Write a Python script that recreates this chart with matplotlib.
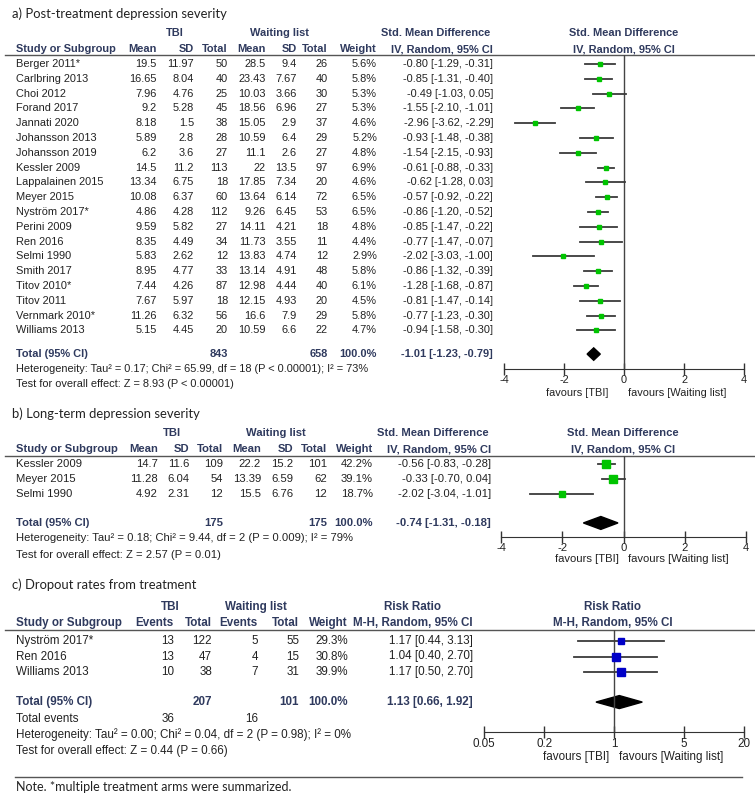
import numpy as np
import matplotlib.pyplot as plt
from matplotlib import font_manager
from matplotlib.transforms import blended_transform_factory, offset_copy
from matplotlib.patches import Polygon

# RevMan output uses a slightly condensed Arial; use the narrow face if present
names = {f.name for f in font_manager.fontManager.ttflist}
if 'Liberation Sans Narrow' in names:
    BODY = ['Liberation Sans Narrow', 'DejaVu Sans']
    SC = 1.2
else:
    BODY = ['Liberation Sans', 'DejaVu Sans']
    SC = 1.0
plt.rcParams['font.family'] = BODY
plt.rcParams['axes.unicode_minus'] = False

# ---------------- a) post-treatment depression severity
studies_a = ["Berger 2011*", "Carlbring 2013", "Choi 2012", "Forand 2017", "Jannati 2020",
             "Johansson 2013", "Johansson 2019", "Kessler 2009", "Lappalainen 2015", "Meyer 2015",
             "Nyström 2017*", "Perini 2009", "Ren 2016", "Selmi 1990", "Smith 2017",
             "Titov 2010*", "Titov 2011", "Vernmark 2010*", "Williams 2013"]
tbi_mean_a = [19.5, 16.65, 7.96, 9.2, 8.18, 5.89, 6.2, 14.5, 13.34, 10.08, 4.86, 9.59, 8.35, 5.83, 8.95, 7.44, 7.67, 11.26, 5.15]
tbi_sd_a = [11.97, 8.04, 4.76, 5.28, 1.5, 2.8, 3.6, 11.2, 6.75, 6.37, 4.28, 5.82, 4.49, 2.62, 4.77, 4.26, 5.97, 6.32, 4.45]
tbi_n_a = [50, 40, 25, 45, 38, 28, 27, 113, 18, 60, 112, 27, 34, 12, 33, 87, 18, 56, 20]
wl_mean_a = [28.5, 23.43, 10.03, 18.56, 15.05, 10.59, 11.1, 22, 17.85, 13.64, 9.26, 14.11, 11.73, 13.83, 13.14, 12.98, 12.15, 16.6, 10.59]
wl_sd_a = [9.4, 7.67, 3.66, 6.96, 2.9, 6.4, 2.6, 13.5, 7.34, 6.14, 6.45, 4.21, 3.55, 4.74, 4.91, 4.44, 4.93, 7.9, 6.6]
wl_n_a = [26, 40, 30, 27, 37, 29, 27, 97, 20, 72, 53, 18, 11, 12, 48, 40, 20, 29, 22]
weight_a = [5.6, 5.8, 5.3, 5.3, 4.6, 5.2, 4.8, 6.9, 4.6, 6.5, 6.5, 4.8, 4.4, 2.9, 5.8, 6.1, 4.5, 5.8, 4.7]
est_a = [-0.80, -0.85, -0.49, -1.55, -2.96, -0.93, -1.54, -0.61, -0.62, -0.57, -0.86, -0.85, -0.77, -2.02, -0.86, -1.28, -0.81, -0.77, -0.94]
lo_a = [-1.29, -1.31, -1.03, -2.10, -3.62, -1.48, -2.15, -0.88, -1.28, -0.92, -1.20, -1.47, -1.47, -3.03, -1.32, -1.68, -1.47, -1.23, -1.58]
hi_a = [-0.31, -0.40, 0.05, -1.01, -2.29, -0.38, -0.93, -0.33, 0.03, -0.22, -0.52, -0.22, -0.07, -1.00, -0.39, -0.87, -0.14, -0.30, -0.30]
total_n_a = [843, 658]
total_a = [-1.01, -1.23, -0.79]
het_a = "Heterogeneity: Tau² = 0.17; Chi² = 65.99, df = 18 (P < 0.00001); I² = 73%"
z_a = "Test for overall effect: Z = 8.93 (P < 0.00001)"

# ---------------- b) long-term depression severity
studies_b = ["Kessler 2009", "Meyer 2015", "Selmi 1990"]
tbi_mean_b = [14.7, 11.28, 4.92]
tbi_sd_b = [11.6, 6.04, 2.31]
tbi_n_b = [109, 54, 12]
wl_mean_b = [22.2, 13.39, 15.5]
wl_sd_b = [15.2, 6.59, 6.76]
wl_n_b = [101, 62, 12]
weight_b = [42.2, 39.1, 18.7]
est_b = [-0.56, -0.33, -2.02]
lo_b = [-0.83, -0.70, -3.04]
hi_b = [-0.28, 0.04, -1.01]
total_n_b = [175, 175]
total_b = [-0.74, -1.31, -0.18]
het_b = "Heterogeneity: Tau² = 0.18; Chi² = 9.44, df = 2 (P = 0.009); I² = 79%"
z_b = "Test for overall effect: Z = 2.57 (P = 0.01)"

# ---------------- c) dropout rates
studies_c = ["Nyström 2017*", "Ren 2016", "Williams 2013"]
tbi_ev_c = [13, 13, 10]
tbi_n_c = [122, 47, 38]
wl_ev_c = [5, 4, 7]
wl_n_c = [55, 15, 31]
weight_c = [29.3, 30.8, 39.9]
est_c = [1.17, 1.04, 1.17]
lo_c = [0.44, 0.40, 0.50]
hi_c = [3.13, 2.70, 2.70]
total_n_c = [207, 101]
total_ev_c = [36, 16]
total_c = [1.13, 0.66, 1.92]
het_c = "Heterogeneity: Tau² = 0.00; Chi² = 0.04, df = 2 (P = 0.98); I² = 0%"
z_c = "Test for overall effect: Z = 0.44 (P = 0.66)"

W, H = 755, 800
NAVY = '#2f3a5e'
TXT = '#222222'
GREY = '#555555'
TITLE_FONT = ['Lato', 'DejaVu Sans']

fig = plt.figure(figsize=(W / 100, H / 100), dpi=100)
page = fig.add_axes([0, 0, 1, 1])
page.set_xlim(0, W)
page.set_ylim(H, 0)
page.axis('off')


def make_forest(x0, x1, y_first, dy, top, bot, xlim, ticks, ticklabels, fs, log=False):
    top_px = y_first + dy * top
    bot_px = y_first + dy * bot
    ax = fig.add_axes([x0 / W, 1 - bot_px / H, (x1 - x0) / W, (bot_px - top_px) / H])
    ax.patch.set_alpha(0)
    if log:
        ax.set_xscale('log')
    ax.set_xlim(*xlim)
    ax.set_ylim(bot, top)
    for s in ['top', 'left', 'right']:
        ax.spines[s].set_visible(False)
    ax.spines['bottom'].set_color('#333333')
    ax.set_yticks([])
    ax.set_xticks(ticks)
    ax.set_xticklabels(ticklabels)
    ax.minorticks_off()
    ax.tick_params(axis='x', direction='inout', length=9, width=1, color='#333333',
                   labelsize=fs, labelcolor=TXT, pad=0)
    ax.axvline(1 if log else 0, color='#444444', lw=1)
    tr = blended_transform_factory(page.transData, ax.transData)
    # header separator across the page
    page.plot([5, W], [top, top], transform=tr, color=GREY, lw=1, clip_on=False)
    return ax, tr


def put(tr, x, y, s, fs, ha='right', bold=False, color=TXT, family=None):
    page.text(x, y, s, transform=tr, ha=ha, va='center', fontsize=fs,
              fontweight='bold' if bold else 'normal', color=color,
              family=family, clip_on=False)


def ci_txt(v):
    return "{:.2f} [{:.2f}, {:.2f}]".format(*v)


def diamond(ax, v, y, h):
    ax.add_patch(Polygon([(v[1], y), (v[0], y - h), (v[2], y), (v[0], y + h)],
                         closed=True, color='black', clip_on=False))


def studies(ax, est, lo, hi, weight, k, color):
    for i in range(len(est)):
        ax.plot([lo[i], hi[i]], [i, i], color='#3a3a3a', lw=1.3, clip_on=False)
        ax.plot(est[i], i, marker='s', ms=k * np.sqrt(weight[i]), color=color,
                mec=color, clip_on=False)


def favours(ax, y, ref, fs, left_off, right_off):
    tl = ax.transData
    put(offset_copy(tl, fig=fig, x=left_off, y=0, units='dots'), ref, y, "favours [TBI]", fs, ha='right')
    put(offset_copy(tl, fig=fig, x=right_off, y=0, units='dots'), ref, y, "favours [Waiting list]", fs, ha='left')


# ======================= panel a
fs = 7.9 * SC
y0, dy = 64, 14.8
ax, tr = make_forest(504, 744, y0, dy, -0.6, 20.6, (-4, 4), [-4, -2, 0, 2, 4],
                     ['-4', '-2', '0', '2', '4'], fs)
put(tr, 12, -3.4, "a) Post-treatment depression severity", 9.4, ha='left', family=TITLE_FONT)
put(tr, 175, -2.1, "TBI", fs, ha='center', bold=True, color=NAVY)
put(tr, 280, -2.1, "Waiting list", fs, ha='center', bold=True, color=NAVY)
put(tr, 436, -2.1, "Std. Mean Difference", fs, ha='center', bold=True, color=NAVY)
put(tr, 624, -2.1, "Std. Mean Difference", fs, ha='center', bold=True, color=NAVY)
put(tr, 16, -1.0, "Study or Subgroup", fs, ha='left', bold=True, color=NAVY)
for x, s in zip([157, 194, 228, 266, 297, 328, 377],
                ["Mean", "SD", "Total", "Mean", "SD", "Total", "Weight"]):
    put(tr, x, -1.0, s, fs, bold=True, color=NAVY)
put(tr, 493, -1.0, "IV, Random, 95% CI", fs, bold=True, color=NAVY)
put(tr, 624, -1.0, "IV, Random, 95% CI", fs, ha='center', bold=True, color=NAVY)
for i, name in enumerate(studies_a):
    put(tr, 16, i, name, fs, ha='left')
    put(tr, 157, i, f"{tbi_mean_a[i]:g}", fs)
    put(tr, 194, i, f"{tbi_sd_a[i]:g}", fs)
    put(tr, 228, i, str(tbi_n_a[i]), fs)
    put(tr, 266, i, f"{wl_mean_a[i]:g}", fs)
    put(tr, 297, i, f"{wl_sd_a[i]:g}", fs)
    put(tr, 328, i, str(wl_n_a[i]), fs)
    put(tr, 377, i, f"{weight_a[i]:.1f}%", fs)
    put(tr, 493, i, ci_txt([est_a[i], lo_a[i], hi_a[i]]), fs)
studies(ax, est_a, lo_a, hi_a, weight_a, 1.3, '#00c400')
yt = 19.6
put(tr, 16, yt, "Total (95% CI)", fs, ha='left', bold=True, color=NAVY)
put(tr, 228, yt, str(total_n_a[0]), fs, bold=True, color=NAVY)
put(tr, 328, yt, str(total_n_a[1]), fs, bold=True, color=NAVY)
put(tr, 377, yt, "100.0%", fs, bold=True, color=NAVY)
put(tr, 493, yt, ci_txt(total_a), fs, bold=True, color=NAVY)
diamond(ax, total_a, yt, 0.42)
put(tr, 16, 20.6, het_a, fs, ha='left')
put(tr, 16, 21.6, z_a, fs, ha='left')
favours(ax, 22.25, 0, fs, -16, 4)

# ======================= panel b
fs = 8.1 * SC
y0, dy = 464, 15.0
ax, tr = make_forest(501, 746, y0, dy, -0.53, 4.87, (-4, 4), [-4, -2, 0, 2, 4],
                     ['-4', '-2', '0', '2', '4'], fs)
put(tr, 12, -3.33, "b) Long-term depression severity", 9.4, ha='left', family=TITLE_FONT)
put(tr, 172, -2.07, "TBI", fs, ha='center', bold=True, color=NAVY)
put(tr, 276, -2.07, "Waiting list", fs, ha='center', bold=True, color=NAVY)
put(tr, 433, -2.07, "Std. Mean Difference", fs, ha='center', bold=True, color=NAVY)
put(tr, 623, -2.07, "Std. Mean Difference", fs, ha='center', bold=True, color=NAVY)
put(tr, 16, -1.0, "Study or Subgroup", fs, ha='left', bold=True, color=NAVY)
for x, s in zip([158, 189, 223, 261, 293, 327, 373],
                ["Mean", "SD", "Total", "Mean", "SD", "Total", "Weight"]):
    put(tr, x, -1.0, s, fs, bold=True, color=NAVY)
put(tr, 491, -1.0, "IV, Random, 95% CI", fs, bold=True, color=NAVY)
put(tr, 623, -1.0, "IV, Random, 95% CI", fs, ha='center', bold=True, color=NAVY)
for i, name in enumerate(studies_b):
    put(tr, 16, i, name, fs, ha='left')
    put(tr, 158, i, f"{tbi_mean_b[i]:g}", fs)
    put(tr, 189, i, f"{tbi_sd_b[i]:g}", fs)
    put(tr, 223, i, str(tbi_n_b[i]), fs)
    put(tr, 261, i, f"{wl_mean_b[i]:g}", fs)
    put(tr, 293, i, f"{wl_sd_b[i]:g}", fs)
    put(tr, 327, i, str(wl_n_b[i]), fs)
    put(tr, 373, i, f"{weight_b[i]:.1f}%", fs)
    put(tr, 491, i, ci_txt([est_b[i], lo_b[i], hi_b[i]]), fs)
studies(ax, est_b, lo_b, hi_b, weight_b, 0.9, '#00c400')
yt = 3.93
put(tr, 16, yt, "Total (95% CI)", fs, ha='left', bold=True, color=NAVY)
put(tr, 223, yt, str(total_n_b[0]), fs, bold=True, color=NAVY)
put(tr, 327, yt, str(total_n_b[1]), fs, bold=True, color=NAVY)
put(tr, 373, yt, "100.0%", fs, bold=True, color=NAVY)
put(tr, 491, yt, ci_txt(total_b), fs, bold=True, color=NAVY)
diamond(ax, total_b, yt, 0.43)
put(tr, 16, 4.93, het_b, fs, ha='left')
put(tr, 16, 6.07, z_b, fs, ha='left')
favours(ax, 6.33, 0, fs, -5, 4)

# ======================= panel c
fs = 8.4 * SC
y0, dy = 641, 15.5
ax, tr = make_forest(484, 744, y0, dy, -0.71, 5.87, (0.05, 20), [0.05, 0.2, 1, 5, 20],
                     ['0.05', '0.2', '1', '5', '20'], fs, log=True)
put(tr, 12, -3.6, "c) Dropout rates from treatment", 9.4, ha='left', family=TITLE_FONT)
put(tr, 170, -2.19, "TBI", fs, ha='center', bold=True, color=NAVY)
put(tr, 256, -2.19, "Waiting list", fs, ha='center', bold=True, color=NAVY)
put(tr, 412, -2.19, "Risk Ratio", fs, ha='center', bold=True, color=NAVY)
put(tr, 613, -2.19, "Risk Ratio", fs, ha='center', bold=True, color=NAVY)
put(tr, 16, -1.16, "Study or Subgroup", fs, ha='left', bold=True, color=NAVY)
for x, s in zip([174, 212, 258, 299, 348], ["Events", "Total", "Events", "Total", "Weight"]):
    put(tr, x, -1.16, s, fs, bold=True, color=NAVY)
put(tr, 473, -1.16, "M-H, Random, 95% CI", fs, bold=True, color=NAVY)
put(tr, 613, -1.16, "M-H, Random, 95% CI", fs, ha='center', bold=True, color=NAVY)
for i, name in enumerate(studies_c):
    put(tr, 16, i, name, fs, ha='left')
    put(tr, 174, i, str(tbi_ev_c[i]), fs)
    put(tr, 212, i, str(tbi_n_c[i]), fs)
    put(tr, 258, i, str(wl_ev_c[i]), fs)
    put(tr, 299, i, str(wl_n_c[i]), fs)
    put(tr, 348, i, f"{weight_c[i]:.1f}%", fs)
    put(tr, 473, i, ci_txt([est_c[i], lo_c[i], hi_c[i]]), fs)
studies(ax, est_c, lo_c, hi_c, weight_c, 0.92, '#0000c8')
yt = 3.94
put(tr, 16, yt, "Total (95% CI)", fs, ha='left', bold=True, color=NAVY)
put(tr, 212, yt, str(total_n_c[0]), fs, bold=True, color=NAVY)
put(tr, 299, yt, str(total_n_c[1]), fs, bold=True, color=NAVY)
put(tr, 348, yt, "100.0%", fs, bold=True, color=NAVY)
put(tr, 473, yt, ci_txt(total_c), fs, bold=True, color=NAVY)
diamond(ax, total_c, yt, 0.42)
put(tr, 16, 5.03, "Total events", fs, ha='left')
put(tr, 174, 5.03, str(total_ev_c[0]), fs)
put(tr, 258, 5.03, str(total_ev_c[1]), fs)
put(tr, 16, 6.06, het_c, fs, ha='left')
put(tr, 16, 7.1, z_c, fs, ha='left')
favours(ax, 7.48, 1, fs, -5, 5)

# footnote
page.plot([15, 742], [777, 777], color=GREY, lw=1)
page.text(16, 787, "Note. *multiple treatment arms were summarized.", fontsize=9.0,
          family=TITLE_FONT, color=TXT, va='center', ha='left')

fig.savefig('out.png', dpi=100)
